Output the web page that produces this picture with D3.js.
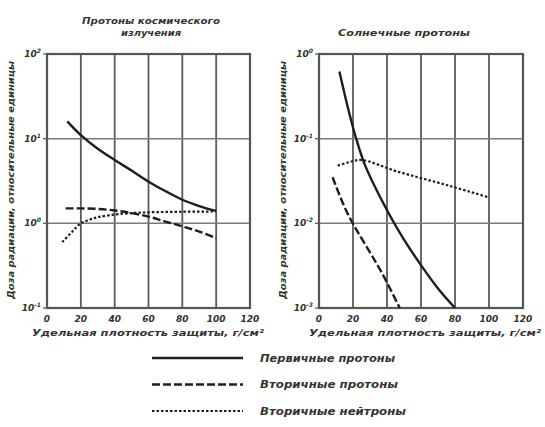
<!DOCTYPE html>
<html>
<head>
<meta charset="utf-8">
<script src="https://cdn.jsdelivr.net/npm/d3@7"></script>
<style>
  body { margin: 0; background: #fff; }
  text { font-family: "DejaVu Sans", sans-serif; font-style: italic; font-weight: bold; fill: #333; }
</style>
</head>
<body>
<div id="chart"></div>
<script>
// x values, g/cm2
const xTicks = [0, 20, 40, 60, 80, 100, 120];

// Cosmic-ray protons (left panel)
const cosmicPrimaryX = [12, 20, 30, 40, 50, 60, 70, 80, 90, 100];
const cosmicPrimaryY = [16, 11, 7.6, 5.6, 4.2, 3.1, 2.4, 1.9, 1.6, 1.4];
const cosmicSecProtX = [11, 20, 30, 40, 50, 60, 70, 80, 90, 100];
const cosmicSecProtY = [1.5, 1.5, 1.48, 1.42, 1.32, 1.2, 1.05, 0.92, 0.8, 0.67];
const cosmicSecNeutX = [9, 15, 20, 25, 30, 40, 50, 60, 80, 100];
const cosmicSecNeutY = [0.6, 0.8, 1.0, 1.1, 1.18, 1.27, 1.32, 1.35, 1.37, 1.38];

// Solar protons (right panel)
const solarPrimaryX = [12, 17, 22, 27, 37, 49, 60.5, 70, 80];
const solarPrimaryY = [0.62, 0.232, 0.098, 0.049, 0.0186, 0.0069, 0.0031, 0.0017, 0.001];
const solarSecProtX = [8, 15, 21, 29, 37, 47.5];
const solarSecProtY = [0.035, 0.0156, 0.0091, 0.0049, 0.0026, 0.001];
const solarSecNeutX = [11, 18, 25, 46, 76, 99];
const solarSecNeutY = [0.048, 0.053, 0.056, 0.041, 0.028, 0.0205];

const leftTicks = [0.1, 1, 10, 100];
const leftTickExp = ["-1", "0", "1", "2"];
const rightTicks = [0.001, 0.01, 0.1, 1];
const rightTickExp = ["-3", "-2", "-1", "0"];

const legendLabels = ["Первичные протоны", "Вторичные протоны", "Вторичные нейтроны"];
const yTitle = "Доза радиации, относительные единицы";
const xTitle = "Удельная плотность защиты, г/см²";

const width = 545, height = 427;
const svg = d3.select("#chart").append("svg")
  .attr("width", width).attr("height", height);

const styles = [
  { dash: null, w: 2.4 },
  { dash: "8,3", w: 2.4 },
  { dash: "2.5,2", w: 2.2 }
];

function panel(opts) {
  const x = d3.scaleLinear().domain([0, 120]).range([opts.x0, opts.x1]);
  const y = d3.scaleLog().domain(opts.yDomain).range([308, 54]);
  const g = svg.append("g");

  // vertical grid
  g.selectAll(".vg").data(xTicks.slice(1, -1)).enter().append("line")
    .attr("x1", d => x(d)).attr("x2", d => x(d))
    .attr("y1", y.range()[1]).attr("y2", y.range()[0])
    .attr("stroke", "#5a5a5a").attr("stroke-width", 1.8);
  // horizontal grid
  g.selectAll(".hg").data(opts.yTicks.slice(1, -1)).enter().append("line")
    .attr("x1", opts.x0).attr("x2", opts.x1)
    .attr("y1", d => y(d)).attr("y2", d => y(d))
    .attr("stroke", "#7a7a7a").attr("stroke-width", 1.5);
  // frame
  g.append("rect")
    .attr("x", opts.x0).attr("y", 54)
    .attr("width", opts.x1 - opts.x0).attr("height", 254)
    .attr("fill", "none").attr("stroke", "#555").attr("stroke-width", 2.2);

  // y tick marks and labels
  g.selectAll(".yt").data(opts.yTicks).enter().append("line")
    .attr("x1", opts.x0 - 4).attr("x2", opts.x0)
    .attr("y1", d => y(d)).attr("y2", d => y(d))
    .attr("stroke", "#555").attr("stroke-width", 1.2);
  const yl = g.selectAll(".yl").data(opts.yTicks).enter().append("text")
    .attr("x", opts.x0 - 6).attr("y", d => y(d) + 3)
    .attr("text-anchor", "end").attr("font-size", 9);
  yl.append("tspan").text("10");
  yl.append("tspan").attr("dy", -4).attr("font-size", 6)
    .text((d, i) => opts.yExp[i]);

  // x tick labels
  g.selectAll(".xl").data(xTicks).enter().append("text")
    .attr("x", d => x(d)).attr("y", 322)
    .attr("text-anchor", "middle").attr("font-size", 9)
    .text(d => d);

  // axis titles
  g.append("text")
    .attr("x", opts.xTitleX).attr("y", 336)
    .attr("text-anchor", "middle").attr("font-size", 9)
    .attr("textLength", 232).attr("lengthAdjust", "spacingAndGlyphs")
    .text(xTitle);
  g.append("text")
    .attr("transform", `translate(${opts.x0 - 33},${180}) rotate(-90)`)
    .attr("text-anchor", "middle").attr("font-size", 9)
    .attr("textLength", 238).attr("lengthAdjust", "spacingAndGlyphs")
    .text(yTitle);

  // panel title
  opts.title.forEach((t, i) => {
    g.append("text")
      .attr("x", opts.titleX).attr("y", opts.titleY + i * 12)
      .attr("text-anchor", "middle").attr("font-size", 9.5)
      .attr("textLength", opts.titleLen[i]).attr("lengthAdjust", "spacingAndGlyphs")
      .text(t);
  });

  const line = d3.line()
    .x(d => x(d[0])).y(d => y(d[1]))
    .curve(d3.curveCatmullRom.alpha(0.5));

  opts.series.forEach((s, i) => {
    g.append("path")
      .datum(d3.zip(s[0], s[1]))
      .attr("d", line)
      .attr("fill", "none")
      .attr("stroke", "#1e1e1e")
      .attr("stroke-width", styles[i].w)
      .attr("stroke-dasharray", styles[i].dash);
  });
}

panel({
  x0: 47, x1: 250,
  yDomain: [0.1, 100], yTicks: leftTicks, yExp: leftTickExp,
  title: ["Протоны космического", "излучения"], titleX: 151, titleY: 24,
  titleLen: [138, 60], xTitleX: 148,
  series: [
    [cosmicPrimaryX, cosmicPrimaryY],
    [cosmicSecProtX, cosmicSecProtY],
    [cosmicSecNeutX, cosmicSecNeutY]
  ]
});

panel({
  x0: 319, x1: 523,
  yDomain: [0.001, 1], yTicks: rightTicks, yExp: rightTickExp,
  title: ["Солнечные протоны"], titleX: 404, titleY: 36,
  titleLen: [132], xTitleX: 425,
  series: [
    [solarPrimaryX, solarPrimaryY],
    [solarSecProtX, solarSecProtY],
    [solarSecNeutX, solarSecNeutY]
  ]
});

// legend
const legendY = d3.scalePoint().domain(legendLabels).range([358, 411]);
const lg = svg.append("g");
legendLabels.forEach((label, i) => {
  lg.append("line")
    .attr("x1", 152).attr("x2", 243)
    .attr("y1", legendY(label)).attr("y2", legendY(label))
    .attr("stroke", "#1e1e1e")
    .attr("stroke-width", styles[i].w)
    .attr("stroke-dasharray", styles[i].dash);
  lg.append("text")
    .attr("x", 260).attr("y", legendY(label) + 3.5)
    .attr("font-size", 10)
    .attr("textLength", [135, 138, 146][i]).attr("lengthAdjust", "spacingAndGlyphs")
    .text(label);
});
</script>
</body>
</html>
